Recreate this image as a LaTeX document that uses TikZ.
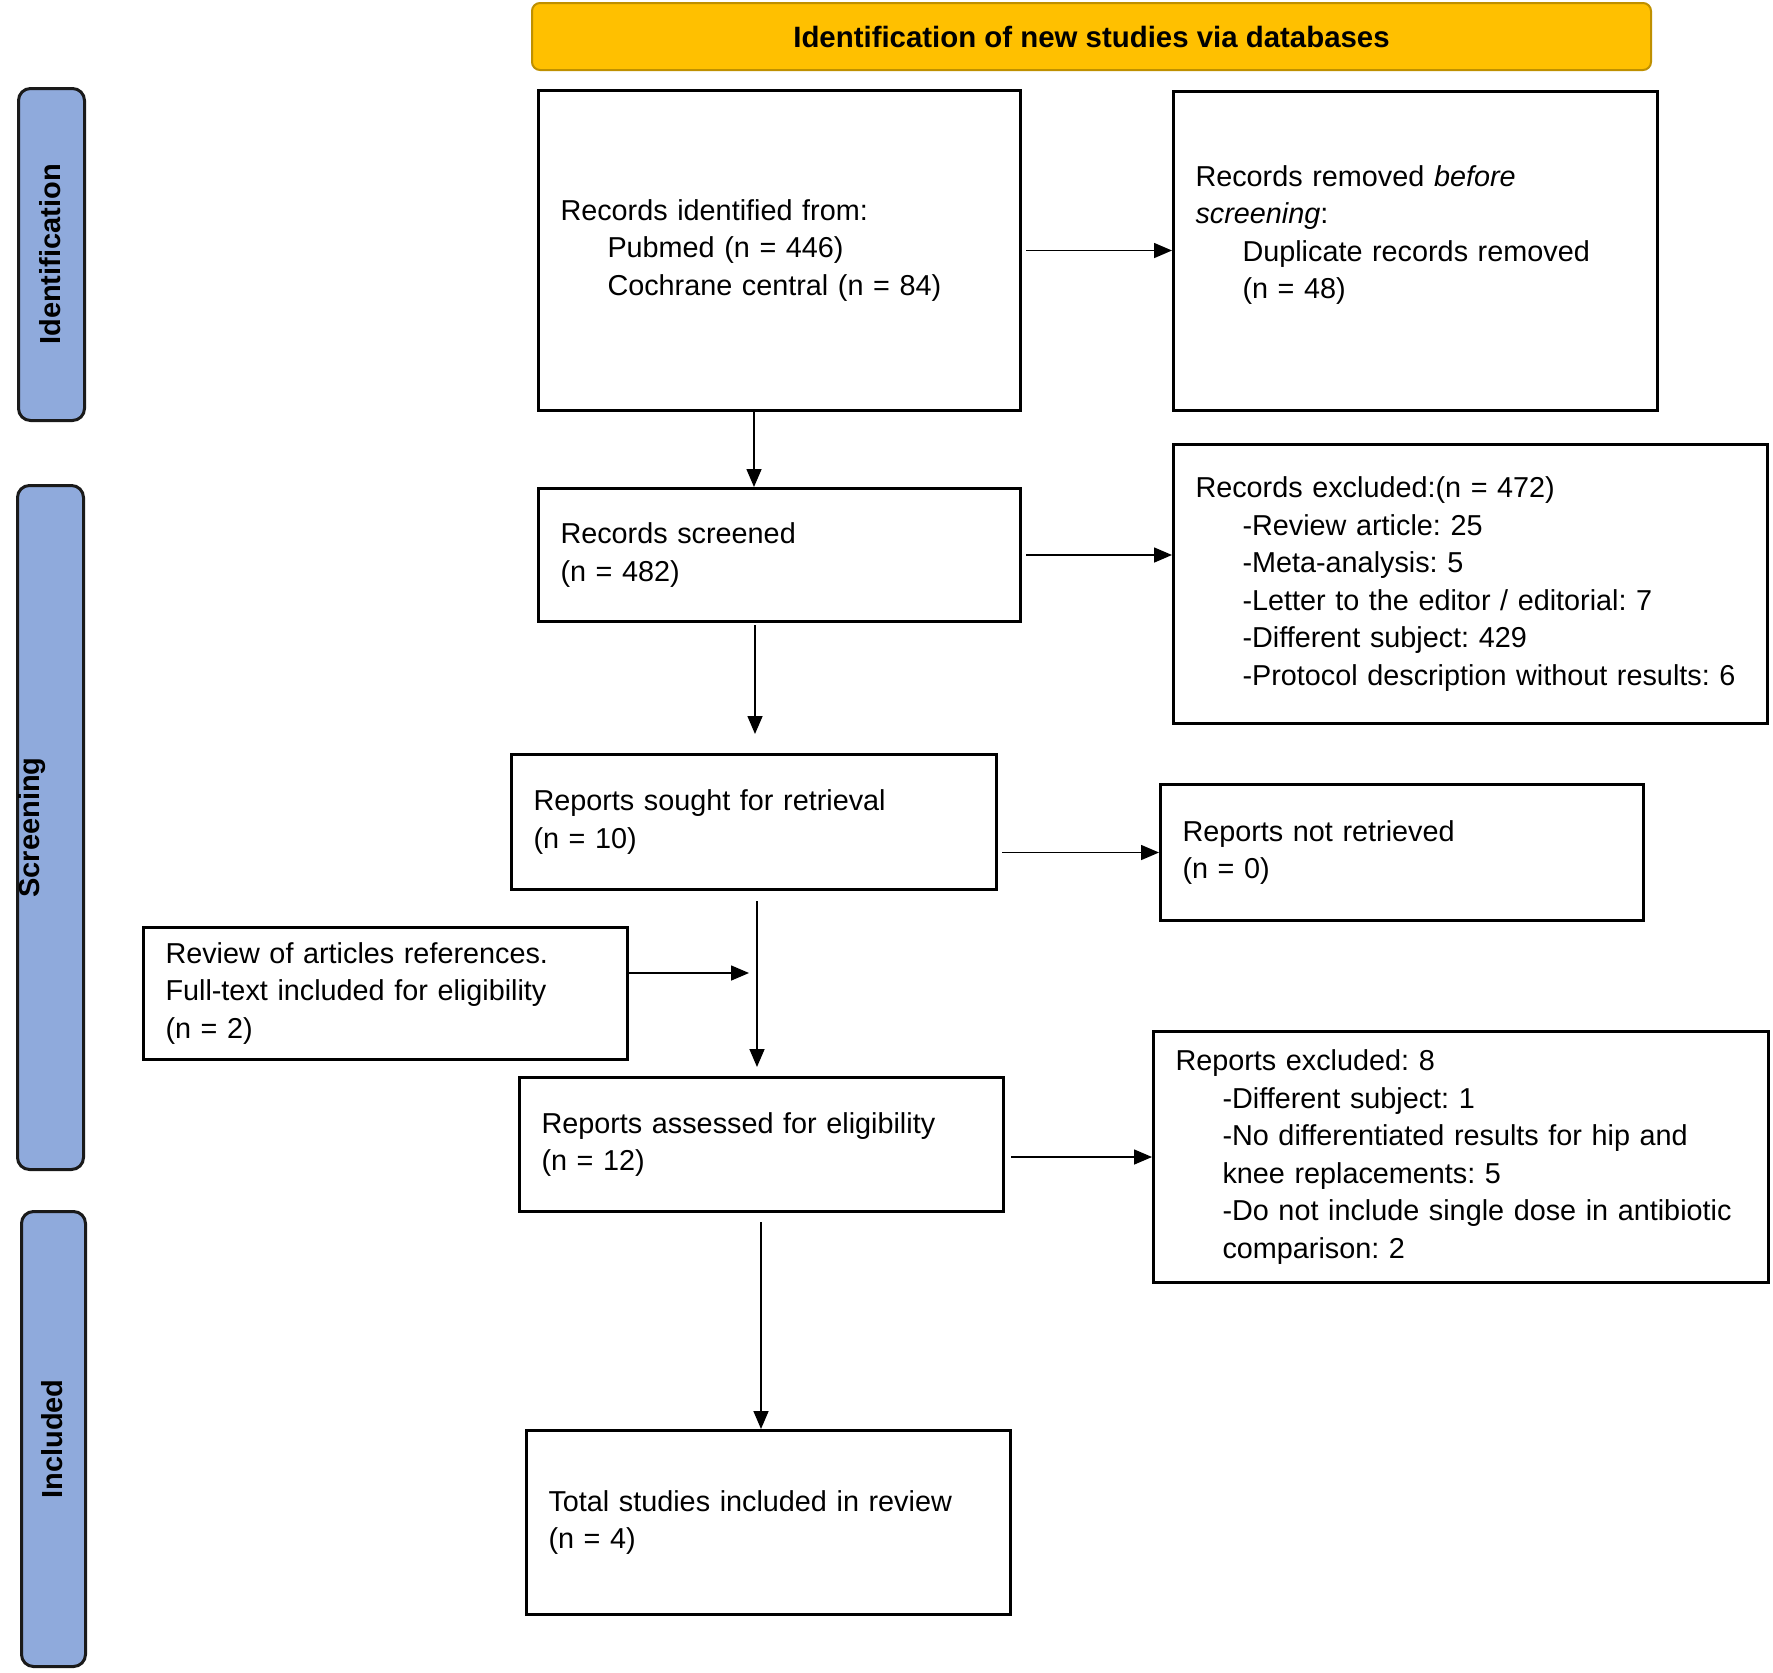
\documentclass[tikz,border=0pt]{standalone}
\usepackage{fontspec}
\setmainfont{Liberation Sans}
\usetikzlibrary{arrows.meta,calc}
\definecolor{titlefill}{HTML}{FFC000}
\definecolor{titledraw}{HTML}{BF9000}
\definecolor{sidefill}{HTML}{8FAADC}
\definecolor{sidedraw}{HTML}{1A1A1A}
\newcommand{\ind}{\hspace*{23.5pt}}
\frenchspacing
\begin{document}
\begin{tikzpicture}[x=0.5pt,y=-0.5pt,
  txt/.style={font=\fontsize{14.4pt}{18.75pt}\selectfont\frenchspacing},
  box/.style={draw=black, line width=1.5pt, align=left, inner xsep=11pt, inner ysep=0pt, txt, anchor=center},
  sidebox/.style={draw=sidedraw, fill=sidefill, line width=1.5pt, rounded corners=6pt, anchor=center},
  sidelabel/.style={rotate=90, font=\fontsize{14.5pt}{17pt}\selectfont\bfseries, inner sep=0pt, anchor=center},
  arr/.style={-{Triangle[length=9pt,width=7.5pt]}, line width=0.8pt}
]
\fill[white] (0,0) rectangle (1773,1672);
\useasboundingbox (0,0) rectangle (1773,1672);

% title
\node[draw=titledraw, fill=titlefill, line width=1pt, rounded corners=4pt,
      minimum width=559.5pt, minimum height=33.5pt, anchor=center,
      font=\fontsize{14.7pt}{17pt}\selectfont\bfseries] (title) at (1091.5,36.5)
      {Identification of new studies via databases};

% side bars
\node[sidebox, minimum width=33pt, minimum height=166pt] (sideid) at (51.5,254.5) {};
\node[sidelabel] (labid) at (50,254.5) {Identification};
\node[sidebox, minimum width=33pt, minimum height=342pt] (sidescr) at (50.5,827.5) {};
\node[sidelabel] (labscr) at (32,827.5) {Screening};
\node[sidebox, minimum width=32pt, minimum height=227.5pt] (sideinc) at (53.5,1439) {};
\node[sidelabel] (labinc) at (52,1439) {Included};

% boxes
\node[box, minimum width=241pt, minimum height=160pt, text width=219pt] (b1) at (779.5,250.5)
  {Records identified from:\\ \ind Pubmed (n = 446)\\ \ind Cochrane central (n = 84)};
\node[box, minimum width=242pt, minimum height=159.5pt, text width=220pt] (rem) at (1415.5,251)
  {Records removed \textit{before}\\ \textit{screening}:\\ \ind Duplicate records removed\\ \ind (n = 48)\\ \mbox{}};
\node[box, minimum width=241pt, minimum height=66.5pt, text width=219pt] (scr) at (779.5,555)
  {Records screened\\ (n = 482)};
\node[box, minimum width=297pt, minimum height=139.5pt, text width=275pt] (exc) at (1470.5,584)
  {Records excluded:(n = 472)\\ \ind -Review article: 25\\ \ind -Meta-analysis: 5\\ \ind -Letter to the editor / editorial: 7\\ \ind -Different subject: 429\\ \ind \mbox{-Protocol description without results: 6}};
\node[box, minimum width=242.5pt, minimum height=67.5pt, text width=220.5pt] (sou) at (754,822)
  {Reports sought for retrieval\\ (n = 10)};
\node[box, minimum width=241.5pt, minimum height=68pt, text width=219.5pt] (nr) at (1402,852.5)
  {Reports not retrieved\\ (n = 0)};
\node[box, minimum width=242pt, minimum height=66pt, text width=220pt] (rev) at (385.5,993.5)
  {Review of articles references.\\ Full-text included for eligibility\\ (n = 2)};
\node[box, minimum width=242pt, minimum height=67pt, text width=220pt] (ass) at (761.5,1144.5)
  {Reports assessed for eligibility\\ (n = 12)};
\node[box, minimum width=307.5pt, minimum height=125.5pt, text width=285.5pt] (rex) at (1461,1157)
  {Reports excluded: 8\\ \ind -Different subject: 1\\ \ind -No differentiated results for hip and\\ \ind knee replacements: 5\\ \ind \mbox{-Do not include single dose in antibiotic}\\ \ind comparison: 2};
\node[box, minimum width=242pt, minimum height=92pt, text width=220pt] (tot) at (768.5,1522.5)
  {Total studies included in review\\ (n = 4)};

% connector helper coordinates
\coordinate (xa) at (754,0);
\coordinate (xb) at (755,0);
\coordinate (xc) at (757,0);
\coordinate (xd) at (761,0);
\coordinate (revend) at (749,973);

% connectors
\draw[arr] (b1.south -| xa) -- (scr.north -| xa);
\draw[arr] ($(b1.east)+(4,0)$) -- (b1.east -| rem.west);
\draw[arr] ($(scr.east)+(4,0)$) -- (scr.east -| exc.west);
\draw[arr] ($(scr.south -| xb)+(0,2)$) -- ($(sou.north -| xb)+(0,-19)$);
\draw[arr] ($(sou.east |- nr.west)+(4,0)$) -- (nr.west);
\draw[arr] ($(sou.south -| xc)+(0,10)$) -- ($(ass.north -| xc)+(0,-9)$);
\draw[arr] (rev.east |- revend) -- (revend);
\draw[arr] ($(ass.east |- rex.west)+(6,0)$) -- (rex.west);
\draw[arr] ($(ass.south -| xd)+(0,9)$) -- (tot.north -| xd);
\end{tikzpicture}
\end{document}
